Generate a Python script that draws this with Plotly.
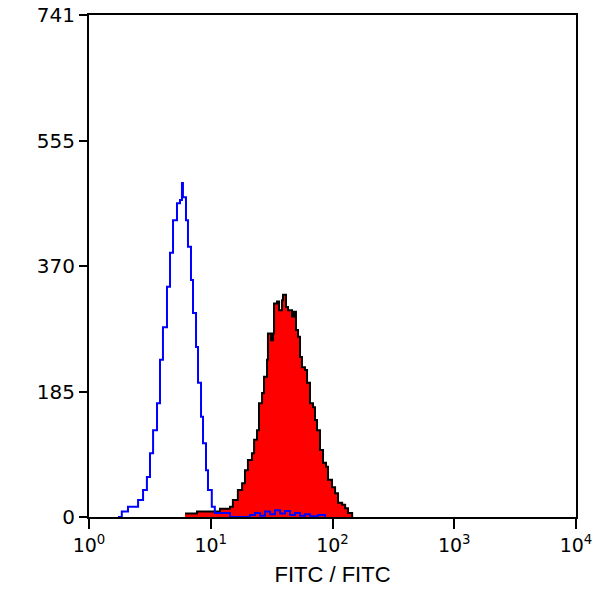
import plotly.graph_objects as go

# control (isotype) histogram - blue outline
ctrl_fitc = [1.73, 1.86, 2.09, 2.53, 2.78, 2.99, 3.17, 3.36, 3.62, 3.83, 4.05, 4.37,
             4.63, 4.90, 5.28, 5.59, 5.80, 5.91, 6.26, 6.50, 6.88, 7.15, 7.57, 7.86,
             8.32, 8.64, 9.14, 9.49, 10.2, 10.8, 14.4, 21.0, 23.1, 25.4, 27.9, 30.7,
             33.7, 37.1, 40.7, 44.8, 49.2, 54.1, 59.4, 65.3, 76.0, 86.8]
ctrl_count = [0, 8, 15, 25, 40, 59, 94, 128, 168, 232, 280, 340,
              390, 438, 463, 468, 493, 472, 438, 399, 350, 301, 251, 198,
              148, 109, 69, 40, 15, 6, 0, 3, 6, 2, 8, 4,
              10, 5, 9, 3, 6, 2, 4, 1, 3, 0]

# stained sample histogram - red filled
stain_fitc = [6.15, 7.71, 11.2, 11.9, 14.4, 15.2, 16.7, 18.1, 19.1, 20.2, 21.8, 22.7,
              24.0, 24.9, 26.4, 27.4, 29.0, 29.5, 31.3, 32.5, 33.1, 35.0, 36.4, 38.5,
              39.2, 41.5, 43.1, 46.5, 48.3, 50.1, 52.1, 54.1, 56.1, 59.4, 61.8, 65.3,
              69.2, 71.8, 74.6, 78.9, 83.6, 88.4, 91.8, 99.1, 105, 111, 120, 127,
              134, 145]
stain_count = [5, 8, 8, 12, 15, 25, 40, 50, 69, 84, 94, 114,
               128, 168, 183, 207, 232, 271, 261, 271, 315, 318, 305, 320,
               328, 310, 305, 296, 303, 276, 266, 236, 221, 217, 198, 168,
               162, 143, 128, 99, 80, 74, 55, 44, 35, 21, 18, 13,
               6, 0]

y_ticks = [0, 185, 370, 555, 741]
x_ticks = [1, 10, 100, 1000, 10000]
x_ticktext = ["10<sup>0</sup>", "10<sup>1</sup>", "10<sup>2</sup>", "10<sup>3</sup>", "10<sup>4</sup>"]

fig = go.Figure()

fig.add_trace(
    go.Scatter(
        x=stain_fitc,
        y=stain_count,
        mode="lines",
        line=dict(color="black", width=2, shape="hv"),
        fill="tozeroy",
        fillcolor="#ff0000",
        showlegend=False,
    )
)
fig.add_trace(
    go.Scatter(
        x=ctrl_fitc,
        y=ctrl_count,
        mode="lines",
        line=dict(color="#0000ff", width=2, shape="hv"),
        showlegend=False,
    )
)

fig.update_layout(
    width=594,
    height=594,
    margin=dict(l=89, r=18, t=15, b=77),
    paper_bgcolor="white",
    plot_bgcolor="white",
    font=dict(family="Liberation Sans, Arial, sans-serif", size=18, color="black"),
)

fig.update_xaxes(
    type="log",
    range=[0, 4],
    tickvals=x_ticks,
    ticktext=x_ticktext,
    tickfont=dict(family="DejaVu Sans", size=19),
    ticklabeloverflow="allow",
    ticks="outside",
    ticklen=10,
    tickwidth=2,
    tickcolor="black",
    showline=True,
    linecolor="black",
    linewidth=2,
    mirror=True,
    showgrid=False,
    zeroline=False,
    automargin=False,
    title=dict(text="FITC / FITC", standoff=12),
)
fig.update_yaxes(
    range=[0, 741],
    tickvals=y_ticks,
    tickfont=dict(family="DejaVu Sans", size=20),
    ticklabeloverflow="allow",
    ticks="outside",
    ticklen=8,
    tickwidth=2,
    tickcolor="black",
    showline=True,
    linecolor="black",
    linewidth=2,
    mirror=True,
    showgrid=False,
    zeroline=False,
    automargin=False,
)

# drop the default page margin so the 594px figure fills the window
fig.write_html(
    "out.html",
    config={"displayModeBar": False},
    post_script="document.body.style.margin = '0';",
)
